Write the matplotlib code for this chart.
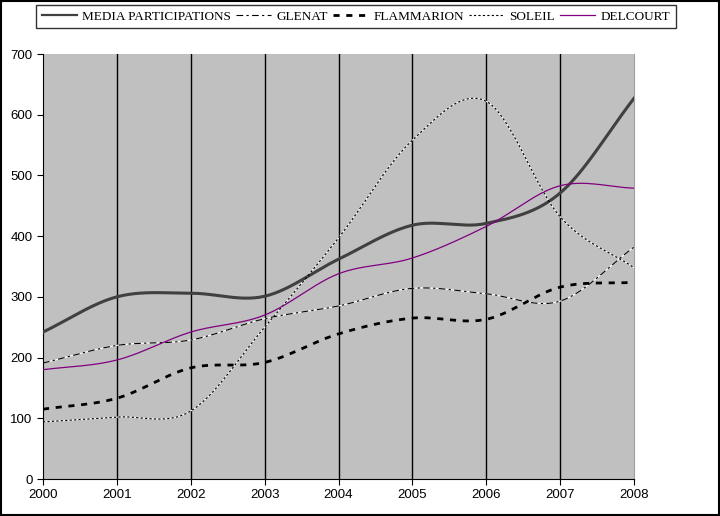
import numpy as np
import matplotlib
matplotlib.use("Agg")
import matplotlib.pyplot as plt
from matplotlib.lines import Line2D

years = [2000, 2001, 2002, 2003, 2004, 2005, 2006, 2007, 2008]
media = [242, 300, 306, 301, 362, 418, 421, 471, 627]
glenat = [191, 220, 229, 264, 285, 314, 305, 293, 382]
flammarion = [115, 133, 183, 192, 239, 265, 263, 316, 324]
soleil = [94, 102, 112, 250, 397, 558, 622, 432, 348]
delcourt = [180, 196, 242, 270, 338, 364, 416, 483, 479]


def smooth(x, y, n=30):
    # catmull-rom curve through the points, like Excel's smoothed lines
    x = np.asarray(x, float)
    y = np.asarray(y, float)
    px = np.concatenate([[2 * x[0] - x[1]], x, [2 * x[-1] - x[-2]]])
    py = np.concatenate([[2 * y[0] - y[1]], y, [2 * y[-1] - y[-2]]])
    xs, ys = [], []
    t = np.linspace(0, 1, n, endpoint=False)
    for i in range(1, len(px) - 2):
        for p, out in ((px, xs), (py, ys)):
            p0, p1, p2, p3 = p[i - 1], p[i], p[i + 1], p[i + 2]
            out.extend(0.5 * (2 * p1 + (-p0 + p2) * t
                              + (2 * p0 - 5 * p1 + 4 * p2 - p3) * t ** 2
                              + (-p0 + 3 * p1 - 3 * p2 + p3) * t ** 3))
    xs.append(x[-1])
    ys.append(y[-1])
    return np.array(xs), np.array(ys)


fig = plt.figure(figsize=(7.2, 5.16), dpi=100)
ax = fig.add_axes([43 / 720, 37 / 516, 591 / 720, 425 / 516])
ax.set_facecolor("#c0c0c0")

for yr in years[1:-1]:
    ax.axvline(yr, color="black", lw=1, zorder=1)

# white underlay so the gaps of the thin dashed lines show white
for data in (glenat, soleil):
    sx, sy = smooth(years, data)
    ax.plot(sx, sy, color="white", lw=0.8, zorder=2)

styles = [
    (media, dict(color="#404040", lw=2.2, ls="-")),
    (glenat, dict(color="black", lw=0.8, ls=(0, (6, 3, 2, 3)))),
    (flammarion, dict(color="black", lw=2.0, ls=(0, (2.2, 2.4)))),
    (soleil, dict(color="black", lw=0.8, ls=(0, (2, 2)))),
    (delcourt, dict(color="#800080", lw=0.9, ls="-")),
]
for data, st in styles:
    sx, sy = smooth(years, data)
    ax.plot(sx, sy, zorder=3, **st)

ax.set_xlim(2000, 2008)
ax.set_ylim(0, 700)
ax.set_xticks(years)
ax.set_yticks(range(0, 701, 100))
ax.tick_params(direction="out", length=4, color="black", labelsize=9.5)
for lbl in ax.get_xticklabels() + ax.get_yticklabels():
    lbl.set_family("Liberation Sans")
ax.spines["top"].set_visible(False)
ax.spines["right"].set_color("#a0a0a0")

names = ["MEDIA PARTICIPATIONS", "GLENAT", "FLAMMARION", "SOLEIL", "DELCOURT"]
leg_styles = [
    dict(color="#404040", lw=1.6, ls="-"),
    dict(color="black", lw=0.8, ls=(0, (6, 3, 2, 3))),
    dict(color="black", lw=2.0, ls=(0, (2.2, 2.4))),
    dict(color="black", lw=0.8, ls=(0, (2, 2))),
    dict(color="#800080", lw=0.9, ls="-"),
]
handles = [Line2D([], [], **st) for st in leg_styles]
leg = fig.legend(handles, names, loc="upper center", bbox_to_anchor=(356 / 720, 1 - 5 / 516),
                 ncol=5, frameon=True, fancybox=False, edgecolor="black",
                 prop={"family": "Liberation Serif", "size": 9.5}, handlelength=2.65,
                 handletextpad=0.4, columnspacing=0.4, borderpad=0.4, borderaxespad=0)
leg.get_frame().set_linewidth(1)

fig.patches.append(plt.Rectangle((0.001, 0.001), 0.998, 0.997, transform=fig.transFigure,
                                 fill=False, edgecolor="black", lw=1.5))

fig.savefig("out.png", dpi=100)
